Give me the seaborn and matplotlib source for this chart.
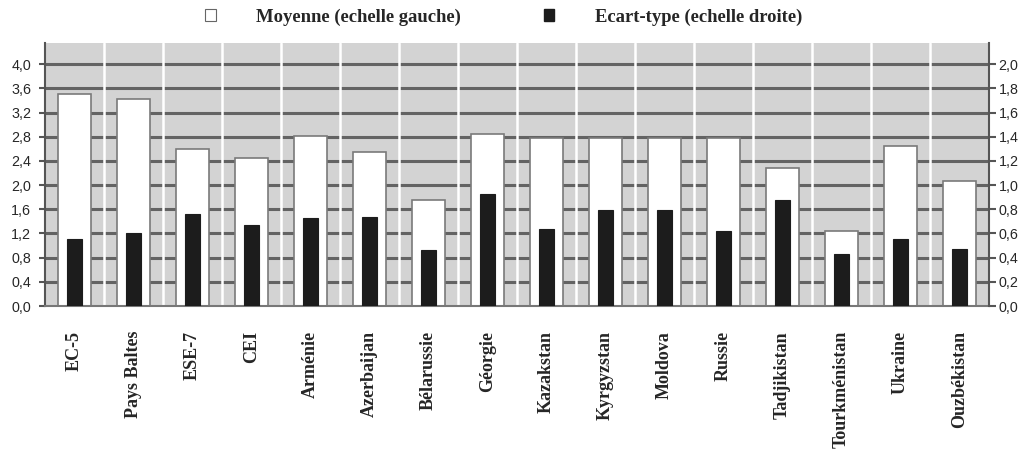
import matplotlib
matplotlib.use("Agg")
import matplotlib.pyplot as plt
import seaborn as sns
import pandas as pd
from matplotlib.patches import Patch

categories = ["EC-5", "Pays Baltes", "ESE-7", "CEI", "Arménie", "Azerbaijan",
              "Bélarussie", "Géorgie", "Kazakstan", "Kyrgyzstan", "Moldova",
              "Russie", "Tadjikistan", "Tourkménistan", "Ukraine", "Ouzbékistan"]
moyenne = [3.50, 3.43, 2.59, 2.44, 2.82, 2.55, 1.75, 2.85, 2.78, 2.78, 2.78,
           2.78, 2.28, 1.24, 2.65, 2.07]
ecart_type = [0.55, 0.60, 0.76, 0.67, 0.725, 0.74, 0.465, 0.93, 0.64, 0.79,
              0.79, 0.62, 0.88, 0.43, 0.55, 0.47]
left_ticks = [0.0, 0.4, 0.8, 1.2, 1.6, 2.0, 2.4, 2.8, 3.2, 3.6, 4.0]
right_ticks = [0.0, 0.2, 0.4, 0.6, 0.8, 1.0, 1.2, 1.4, 1.6, 1.8, 2.0]
legend_labels = ["Moyenne (echelle gauche)", "Ecart-type (echelle droite)"]

sns.set_style("white")
plt.rcParams["font.family"] = ["Liberation Sans", "DejaVu Sans"]

df = pd.DataFrame({"cat": categories, "moy": moyenne, "sd": ecart_type})

fig = plt.figure(figsize=(10.28, 4.54), dpi=100)
ax = fig.add_axes([45 / 1028, 1 - 306 / 454, (989 - 45) / 1028, (306 - 43) / 454])
ax.set_facecolor("#d3d3d3")

grid_color = "#636363"
for v in left_ticks[1:]:
    ax.axhline(v, color=grid_color, lw=2.2, zorder=0.5)
for k in range(len(categories) - 1):
    ax.axvline(k + 0.5, color="white", lw=1.8, zorder=0.6)

sns.barplot(data=df, x="cat", y="moy", ax=ax, color="white", width=0.55,
            saturation=1, edgecolor="#7a7a7a", linewidth=1.2, zorder=2)

ax2 = ax.twinx()
sns.barplot(data=df, x="cat", y="sd", ax=ax2, color="#1c1c1c", width=0.26,
            saturation=1, edgecolor="#1c1c1c", linewidth=0.8, zorder=3)

ax.set_xlim(-0.5, len(categories) - 0.5)
ax.set_ylim(0, 4.35)
ax2.set_ylim(0, 2.175)
ax.set_yticks(left_ticks)
ax.set_yticklabels([f"{v:.1f}".replace(".", ",") for v in left_ticks])
ax2.set_yticks(right_ticks)
ax2.set_yticklabels([f"{v:.1f}".replace(".", ",") for v in right_ticks])
for a in (ax, ax2):
    a.set_xlabel("")
    a.set_ylabel("")
    for s in a.spines.values():
        s.set_visible(False)

ax.spines["left"].set_visible(True)
ax.spines["left"].set_color("#555555")
ax.spines["left"].set_linewidth(1.5)
ax.spines["bottom"].set_visible(True)
ax.spines["bottom"].set_color("#777777")
ax.spines["bottom"].set_linewidth(1.5)
ax2.spines["right"].set_visible(True)
ax2.spines["right"].set_color("#555555")
ax2.spines["right"].set_linewidth(1.5)

ax.tick_params(axis="y", direction="out", length=4, width=1.5, color="#555555",
               labelsize=10.3, pad=6, left=True)
ax2.tick_params(axis="y", direction="out", length=5, width=1.5, color="#555555",
                labelsize=10.3, pad=2, right=True)
ax.tick_params(axis="x", length=0, pad=18)
ax.set_xticks(range(len(categories)))
ax.set_xticklabels(categories, rotation=90, fontweight="bold", fontsize=13,
                   family=["Liberation Serif", "DejaVu Serif"], va="top", ha="center")

handles = [Patch(facecolor="white", edgecolor="#666666", linewidth=0.8),
           Patch(facecolor="#1c1c1c", edgecolor="#1c1c1c")]
fig.legend(handles, legend_labels, loc="center", bbox_to_anchor=(504 / 1028, 1 - 17 / 454),
           ncol=2, frameon=False, handlelength=0.55, handleheight=0.65,
           handletextpad=2.2, columnspacing=4.45,
           prop={"family": ["Liberation Serif", "DejaVu Serif"], "weight": "bold", "size": 13.4})

fig.savefig("out.png", dpi=100)
